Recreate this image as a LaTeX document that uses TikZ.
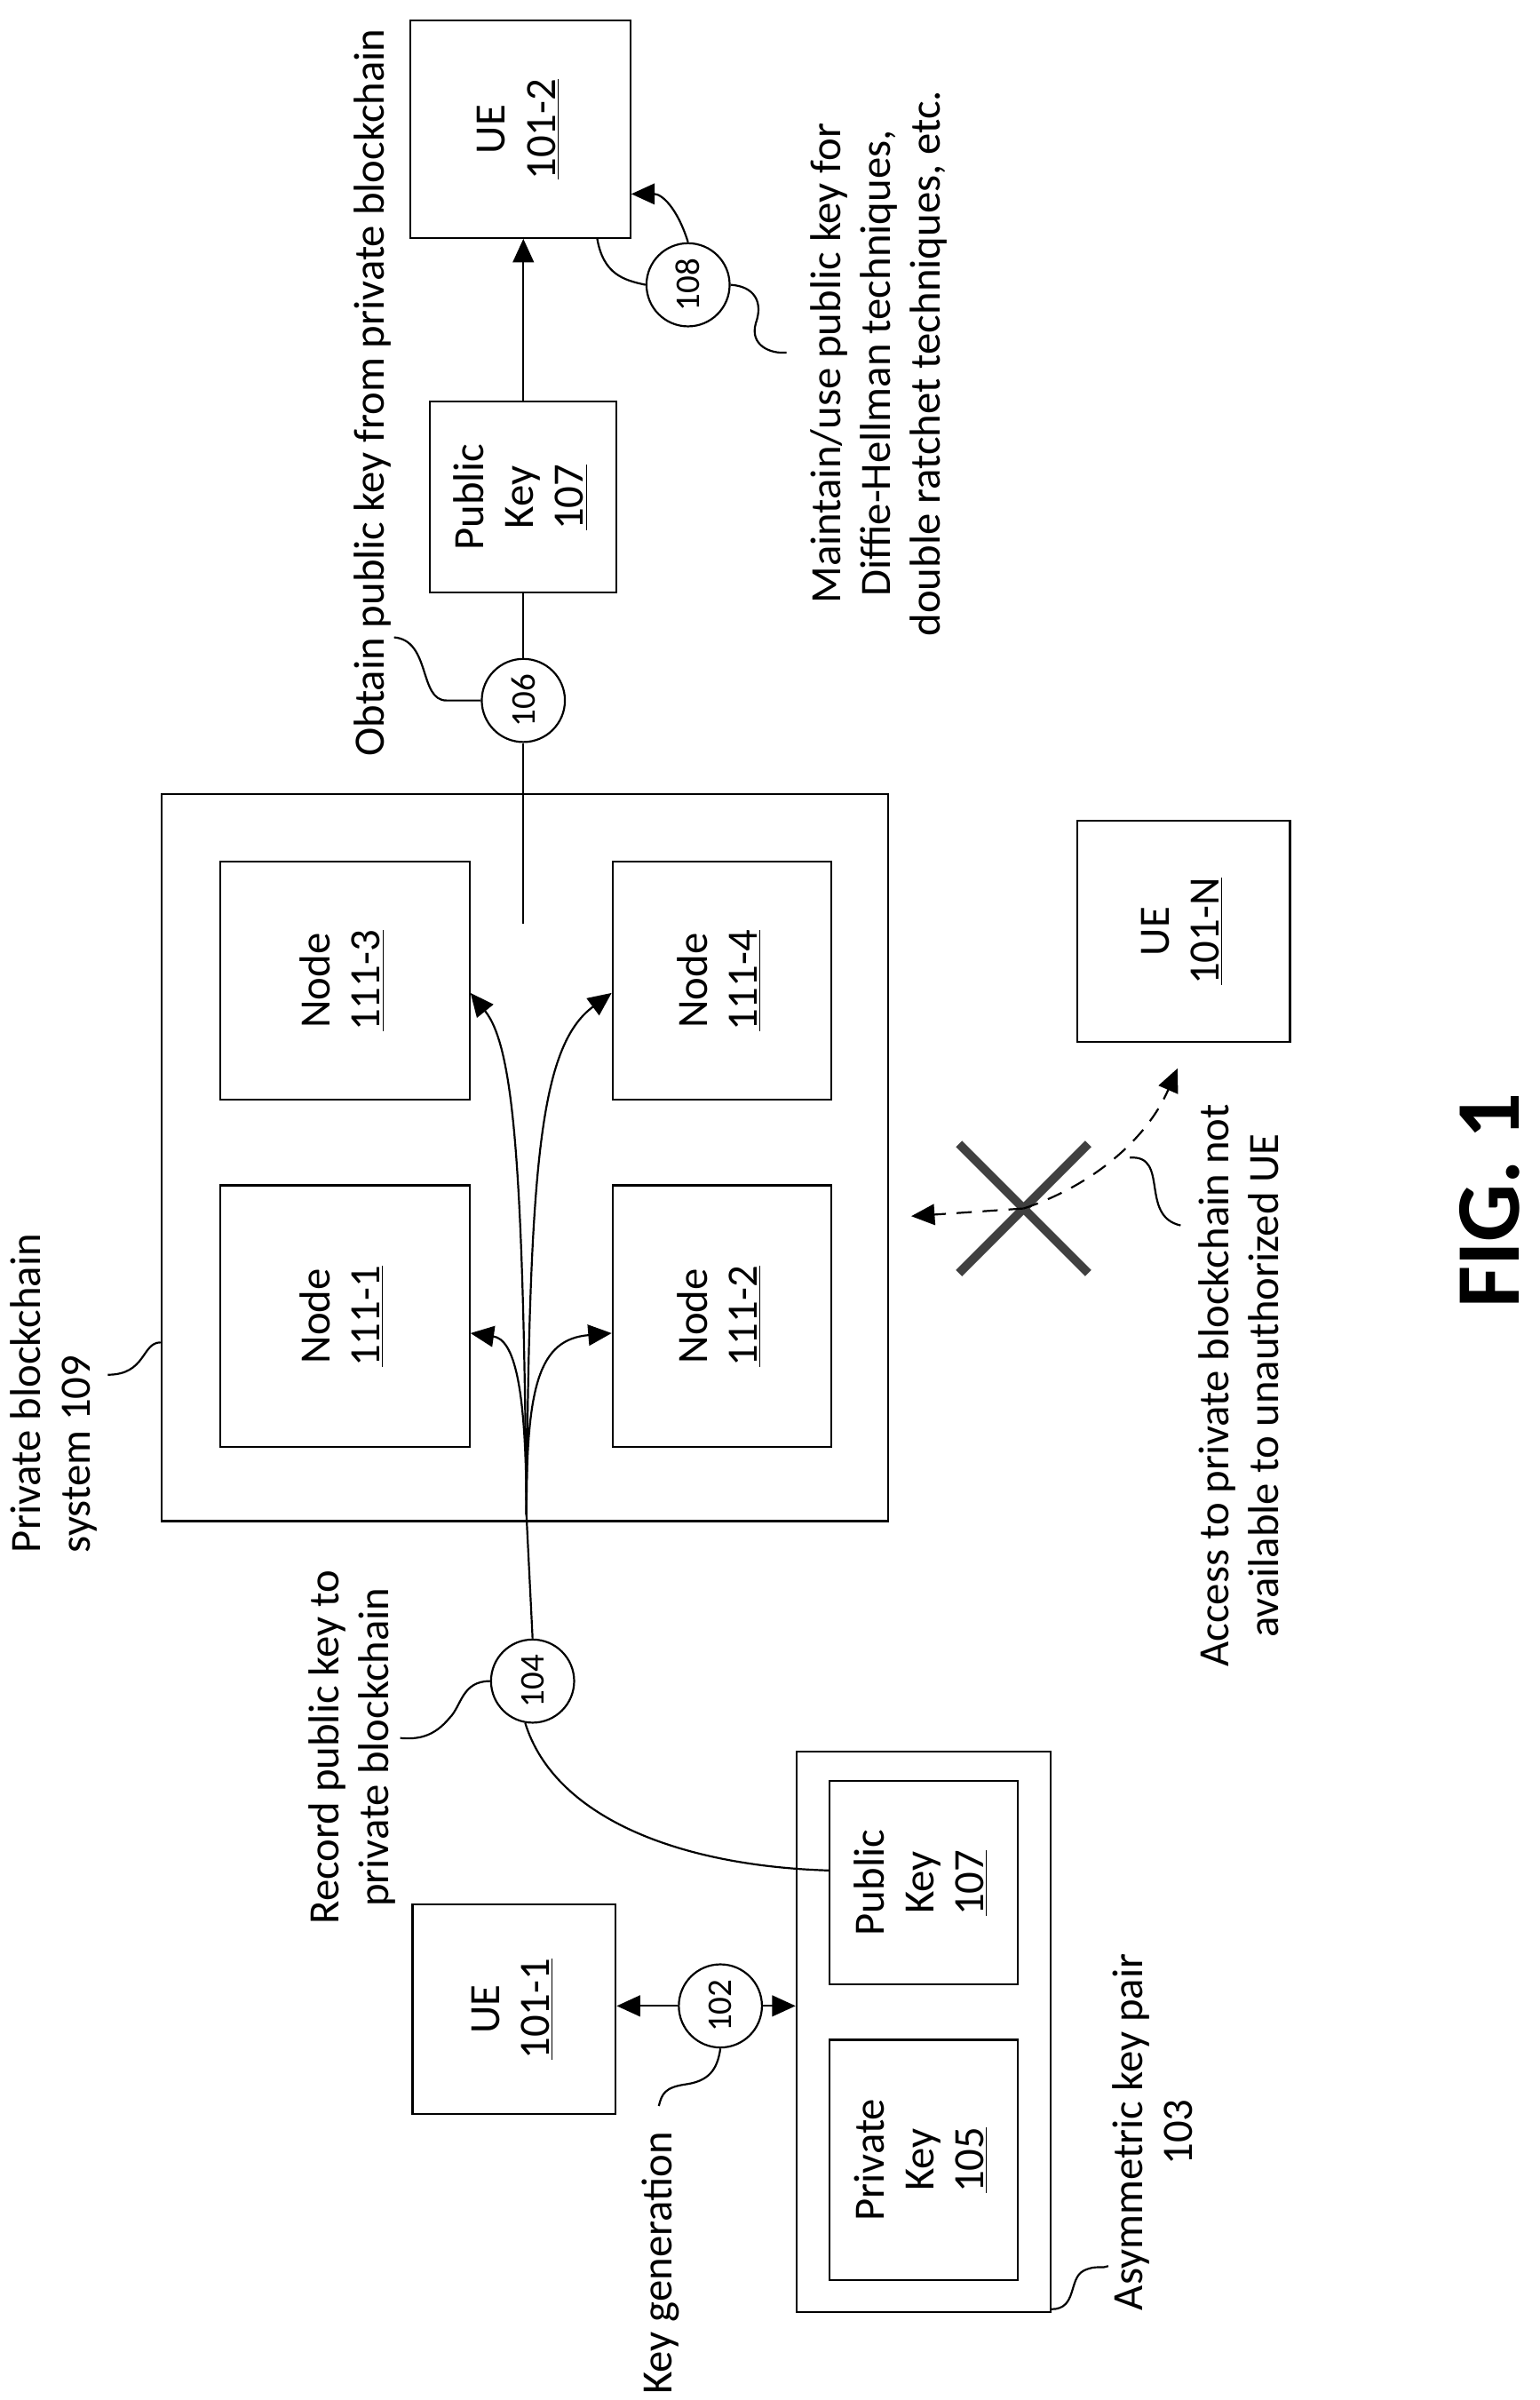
\documentclass[tikz,border=0pt]{standalone}
\usepackage{fontspec}
\setmainfont{Carlito}
\usepackage{tikz}
\usetikzlibrary{positioning}
\usetikzlibrary{arrows.meta}
\usetikzlibrary{calc}

\tikzset{
	box/.style = {draw, line width=0.9pt, inner sep=0pt, font=\fontsize{20}{23}\selectfont},
	circ/.style = {draw, circle, line width=0.9pt, minimum size=13.5mm, inner sep=0pt, font=\fontsize{16}{18}\selectfont},
	note/.style = {inner sep=0pt, font=\fontsize{20}{23}\selectfont},
	arr/.style = {-{Triangle[length=3.8mm,width=3.4mm]}},
}
\newcommand{\vtxt}[1]{\rotatebox{90}{\begin{tabular}{@{}c@{}}#1\end{tabular}}}

\begin{document}
\begin{tikzpicture}[x=0.025cm, y=-0.025cm, line width=0.9pt]
\useasboundingbox (0,0) rectangle (1000,1559);

% blockchain system and its nodes
\node[box, minimum width=118mm, minimum height=118mm] (sys) at (341,752) {};
\node[box, minimum width=40.5mm, minimum height=38.75mm] (n3) at (224,637) {\vtxt{Node\\\underline{111-3}}};
\node[box, minimum width=35.5mm, minimum height=38.75mm] (n4) at (469,637) {\vtxt{Node\\\underline{111-4}}};
\node[box, minimum width=40.5mm, minimum height=42.5mm] (n1) at (224,855) {\vtxt{Node\\\underline{111-1}}};
\node[box, minimum width=35.5mm, minimum height=42.5mm] (n2) at (469,855) {\vtxt{Node\\\underline{111-2}}};

% user equipment
\node[box, minimum width=35.75mm, minimum height=35.25mm] (ue2) at (338,84) {\vtxt{UE\\\underline{101-2}}};
\node[box, minimum width=33mm, minimum height=34mm] (ue1) at (334,1305) {\vtxt{UE\\\underline{101-1}}};
\node[box, minimum width=34.5mm, minimum height=36mm] (uen) at (769,605) {\vtxt{UE\\\underline{101-N}}};

% keys
\node[box, minimum width=30.25mm, minimum height=31mm] (pk2) at (340,323) {\vtxt{Public\\Key\\\underline{107}}};
\node[box, minimum width=41.25mm, minimum height=91mm] (kp) at (600,1320) {};
\node[box, minimum width=30.5mm, minimum height=33mm] (pk1) at (600,1223) {\vtxt{Public\\Key\\\underline{107}}};
\node[box, minimum width=30.5mm, minimum height=39mm] (prk) at (600,1403) {\vtxt{Private\\Key\\\underline{105}}};

% steps
\node[circ] (c102) at (468,1303) {\rotatebox{90}{102}};
\node[circ] (c104) at (346,1092) {\rotatebox{90}{104}};
\node[circ] (c106) at (340,455) {\rotatebox{90}{106}};
\node[circ] (c108) at (447,185) {\rotatebox{90}{108}};

% annotations
\node[note] (t106) at (243,255) {\vtxt{Obtain public key from private blockchain}};
\node[note] (t108) at (572,236) {\vtxt{Maintain/use public key for\\Diffie-Hellman techniques,\\double ratchet techniques, etc.}};
\node[note] (t109) at (36,905) {\rotatebox{90}{\begin{tabular}{@{}l@{}}Private blockchain\\system 109\end{tabular}}};
\node[note] (t104) at (230,1135) {\vtxt{Record public key to\\private blockchain}};
\node[note] (t102) at (430,1470) {\vtxt{Key generation}};
\node[note] (t103) at (752,1385) {\vtxt{Asymmetric key pair\\103}};
\node[note] (tx) at (808,900) {\vtxt{Access to private blockchain not\\available to unauthorized UE}};
\node[inner sep=0pt, font=\fontsize{42}{48}\selectfont\bfseries] (fig) at (968,780) {\rotatebox{90}{FIG. 1}};

% key generation
\draw[arr] (c102.west) -- (ue1.east |- c102);
\draw[arr] (c102.east) -- (kp.west |- c102);

% record to blockchain
\coordinate (fan) at (342,984);
\draw (pk1.west |- 0,1215) .. controls (440,1212) and (360,1180) .. (c104.-100);
\draw (c104.north) -- (fan);
\draw[arr] (fan) .. controls (342,900) and (334,870) .. (n1.east |- 0,866);
\draw[arr] (fan) .. controls (342,900) and (350,870) .. (n2.west |- 0,866);
\draw[arr] (fan) .. controls (340,760) and (334,680) .. (n3.east |- 0,645);
\draw[arr] (fan) .. controls (344,760) and (350,680) .. (n4.west |- 0,645);

% obtain and use public key
\coordinate (tap) at (340,600);
\draw (tap) -- (c106.south);
\draw (c106.north) -- (pk2.south -| c106);
\draw[arr] (pk2.north -| c106) -- (ue2.south -| c106);
\draw (ue2.south -| 388,0) .. controls (392,178) and (405,182) .. (c108.west);
\draw[arr] (c108.north) .. controls (440,135) and (430,126) .. (ue2.east |- 0,126);

% unauthorized access
\coordinate (xc) at (665,785);
\draw[line width=4pt, black!75] ($(xc)+(-42,-42)$) -- ($(xc)+(42,42)$);
\draw[line width=4pt, black!75] ($(xc)+(-42,42)$) -- ($(xc)+(42,-42)$);
\draw[arr, dash pattern=on 7pt off 5pt] (xc) -- (592,790);
\draw[arr, dash pattern=on 7pt off 5pt] (xc) .. controls (710,770) and (745,740) .. (765,694);

% leader lines
\draw (c106.west) -- (290,455) .. controls (272,455) and (280,416) .. (256,414);
\draw (c108.east) .. controls (490,186) and (496,196) .. (491,210) .. controls (487,224) and (500,230) .. (511,229);
\draw (sys.west |- 0,872) .. controls (92,872) and (95,893) .. (70,893);
\draw (c104.west) .. controls (300,1092) and (300,1108) .. (292,1116) .. controls (282,1128) and (272,1130) .. (260,1129);
\draw (c102.south) .. controls (466,1345) and (460,1352) .. (445,1354) .. controls (432,1356) and (430,1360) .. (428,1368);
\draw (kp.east |- 0,1500) .. controls (700,1500) and (694,1480) .. (704,1475) .. controls (712,1471) and (716,1474) .. (720,1472);
\draw (734,752) .. controls (760,750) and (740,790) .. (767,796);
\end{tikzpicture}
\end{document}
